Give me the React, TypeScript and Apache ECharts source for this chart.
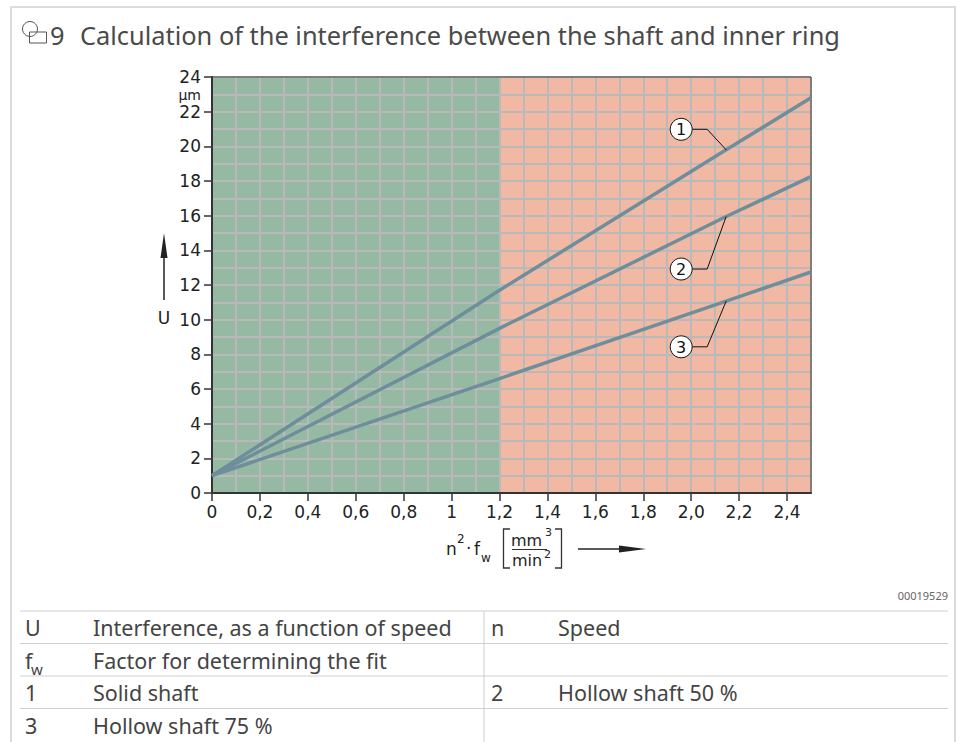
import React, { useEffect, useRef } from "react";
import * as echarts from "echarts";

// ---- data ----
const xTickValues = [0, 0.2, 0.4, 0.6, 0.8, 1.0, 1.2, 1.4, 1.6, 1.8, 2.0, 2.2, 2.4];
const xTickLabels = ["0", "0,2", "0,4", "0,6", "0,8", "1", "1,2", "1,4", "1,6", "1,8", "2,0", "2,2", "2,4"];
const yTickValues = [0, 2, 4, 6, 8, 10, 12, 14, 16, 18, 20, 22, 24];
const yUnitValue = 23;
const yUnitLabel = "µm";

const solidShaft = [[0, 1], [1.2, 11.7], [2.146, 19.8], [2.5, 22.8]];
const hollowShaft50 = [[0, 1], [1.2, 9.5], [2.146, 15.95], [2.5, 18.25]];
const hollowShaft75 = [[0, 1], [1.2, 6.6], [2.146, 11.07], [2.5, 12.75]];
const seriesNames = ["Solid shaft", "Hollow shaft 50 %", "Hollow shaft 75 %"];

const zoneStart = [0, 1.2];
const zoneEnd = [1.2, 2.5];

const calloutLabels = ["1", "2", "3"];
const calloutX = [2.146, 2.146, 2.146];

const titleNumber = "9";
const titleText = "Calculation of the interference between the shaft and inner ring";
const imageId = "00019529";

const legendRows = [
  ["U", "Interference, as a function of speed", "n", "Speed"],
  ["f|w", "Factor for determining the fit", "", ""],
  ["1", "Solid shaft", "2", "Hollow shaft 50 %"],
  ["3", "Hollow shaft 75 %", "", ""],
];

// ---- styles ----
const FONT = "'Noto Sans', 'Open Sans', sans-serif";
const AXFONT = "'DejaVu Sans', 'Noto Sans', sans-serif";
const zoneColors = ["#96b9a4", "#f1b9a4"];
const lineColor = "#6e8e9b";
const gridLineColor = "#b9b9b9";
const axisColor = "#222";
const X_MIN = 0, X_MAX = 2.5, Y_MIN = 0, Y_MAX = 24;

function interp(data: number[][], x: number): number {
  for (let i = 0; i < data.length - 1; i++) {
    const [x0, y0] = data[i];
    const [x1, y1] = data[i + 1];
    if (x >= x0 && x <= x1) return y0 + ((y1 - y0) * (x - x0)) / (x1 - x0);
  }
  return data[data.length - 1][1];
}

export default function App() {
  const ref = useRef<HTMLDivElement>(null);

  useEffect(() => {
    if (!ref.current) return;
    const chart = echarts.init(ref.current, undefined, { renderer: "svg" });
    const allSeries = [solidShaft, hollowShaft50, hollowShaft75];

    const labelStyle = { color: axisColor, fontSize: 17, fontFamily: AXFONT, lineHeight: 17 };

    const option: any = {
      animation: false,
      backgroundColor: "#fff",
      grid: {
        left: 212,
        right: 146,
        top: 77,
        bottom: 249,
        show: true,
        backgroundColor: "transparent",
        borderColor: "#444",
        borderWidth: 1,
        z: 4,
      },
      xAxis: [
        {
          // grid axis: split lines every 0.1
          type: "value",
          min: X_MIN,
          max: X_MAX,
          interval: 0.1,
          position: "bottom",
          z: 3,
          axisLine: { show: true, onZero: false, lineStyle: { color: axisColor, width: 2 } },
          axisTick: { show: false },
          axisLabel: { show: false },
          splitLine: { show: true, lineStyle: { color: gridLineColor, width: 2 } },
        },
        {
          // tick / label axis
          type: "value",
          min: X_MIN,
          max: X_MAX,
          interval: 0.1,
          position: "bottom",
          z: 3,
          axisLine: { show: false, onZero: false },
          axisTick: {
            show: true,
            customValues: xTickValues,
            length: 8,
            lineStyle: { color: "#333", width: 1.5 },
          },
          axisLabel: {
            customValues: xTickValues,
            formatter: (v: number) => {
              const i = xTickValues.findIndex((t) => Math.abs(t - v) < 1e-6);
              return i >= 0 ? xTickLabels[i] : "";
            },
            ...labelStyle,
            margin: 10,
          },
          splitLine: { show: false },
        },
      ],
      yAxis: [
        {
          type: "value",
          min: Y_MIN,
          max: Y_MAX,
          interval: 1,
          position: "left",
          z: 3,
          axisLine: { show: true, onZero: false, lineStyle: { color: axisColor, width: 2 } },
          axisTick: { show: false },
          axisLabel: { show: false },
          splitLine: { show: true, lineStyle: { color: gridLineColor, width: 2 } },
        },
        {
          type: "value",
          min: Y_MIN,
          max: Y_MAX,
          interval: 1,
          position: "left",
          z: 3,
          axisLine: { show: false, onZero: false },
          axisTick: {
            show: true,
            customValues: yTickValues,
            length: 8,
            lineStyle: { color: "#333", width: 1.5 },
          },
          axisLabel: {
            customValues: yTickValues,
            formatter: (v: number) => String(v),
            ...labelStyle,
            margin: 11,
          },
          splitLine: { show: false },
        },
      ],
      series: [
        {
          type: "custom",
          z: 1,
          silent: true,
          clip: true,
          xAxisIndex: 0,
          yAxisIndex: 0,
          data: zoneStart.map((s, i) => [s, zoneEnd[i]]),
          encode: { x: [0, 1] },
          renderItem: (params: any, api: any) => {
            const p0 = api.coord([api.value(0), Y_MAX]);
            const p1 = api.coord([api.value(1), Y_MIN]);
            return {
              type: "rect",
              shape: { x: p0[0], y: p0[1], width: p1[0] - p0[0], height: p1[1] - p0[1] },
              style: { fill: zoneColors[params.dataIndex] },
            };
          },
        },
        ...allSeries.map((d, i) => ({
          type: "line",
          name: seriesNames[i],
          xAxisIndex: 0,
          yAxisIndex: 0,
          data: d,
          z: 5,
          silent: true,
          symbol: "none",
          showSymbol: false,
          lineStyle: { color: lineColor, width: 3.5 },
        })),
      ],
    };
    chart.setOption(option);

    // ---- decorations ----
    const g: any[] = [];
    const t = (text: string, x: number, y: number, size: number, align = "left", font = AXFONT, fill = axisColor) => ({
      type: "text",
      x,
      y,
      style: {
        text,
        font: `${size}px ${font}`,
        fill,
        textAlign: align,
        textVerticalAlign: "middle",
        lineHeight: size,
      },
    });

    // frame
    g.push({
      type: "rect",
      shape: { x: 11, y: 7, width: 944, height: 760 },
      style: { fill: "none", stroke: "#dcdcdc", lineWidth: 2 },
      z: 0,
    });
    // title icon
    g.push({
      type: "rect",
      shape: { x: 29.5, y: 32, width: 17, height: 11 },
      style: { fill: "none", stroke: "#555", lineWidth: 1 },
    });
    g.push({
      type: "circle",
      shape: { cx: 30, cy: 29, r: 7.5 },
      style: { fill: "none", stroke: "#555", lineWidth: 1 },
    });
    g.push(t(titleNumber, 50, 35, 25.4, "left", FONT, "#4a4a4a"));
    g.push(t(titleText, 80, 35, 25.4, "left", FONT, "#4a4a4a"));

    // y unit label (between 24 and 22)
    const [, unitY] = chart.convertToPixel({ gridIndex: 0 }, [0, yUnitValue]) as number[];
    g.push(t(yUnitLabel, 201, unitY + 0.5, 14, "right"));

    // y axis name + arrow
    g.push({
      type: "line",
      shape: { x1: 164, y1: 300, x2: 164, y2: 252 },
      style: { stroke: "#222", lineWidth: 1.5 },
    });
    g.push({
      type: "polygon",
      shape: { points: [[160.5, 258], [164, 233], [167.5, 258]] },
      style: { fill: "#222" },
    });
    g.push(t("U", 164, 318, 17, "center"));

    // x axis name
    g.push(t("n", 446, 549, 17));
    g.push(t("2", 457, 539, 12));
    g.push(t("·", 466, 548, 17));
    g.push(t("f", 474, 549, 17));
    g.push(t("w", 481, 558, 12));
    g.push({
      type: "polyline",
      shape: { points: [[510, 529], [503.5, 529], [503.5, 568], [510, 568]] },
      style: { stroke: "#333", lineWidth: 1.3, fill: "none" },
    });
    g.push({
      type: "polyline",
      shape: { points: [[555, 529], [561.5, 529], [561.5, 568], [555, 568]] },
      style: { stroke: "#333", lineWidth: 1.3, fill: "none" },
    });
    g.push(t("mm", 511, 540, 16));
    g.push(t("3", 545, 532, 11));
    g.push({
      type: "line",
      shape: { x1: 512, y1: 549.5, x2: 547, y2: 549.5 },
      style: { stroke: "#333", lineWidth: 1.2 },
    });
    g.push(t("min", 512, 560, 16));
    g.push(t("2", 544, 554, 11));
    g.push({
      type: "line",
      shape: { x1: 578, y1: 549, x2: 625, y2: 549 },
      style: { stroke: "#222", lineWidth: 1.5 },
    });
    g.push({
      type: "polygon",
      shape: { points: [[619, 545.5], [646, 549], [619, 552.5]] },
      style: { fill: "#222" },
    });

    // callouts
    const calloutDy = [-20.5, 52.5, 45.7];
    calloutLabels.forEach((lab, i) => {
      const xv = calloutX[i];
      const yv = interp(allSeries[i], xv);
      const [ax, ay] = chart.convertToPixel({ gridIndex: 0 }, [xv, yv]) as number[];
      const ey = ay + calloutDy[i];
      const cx = ax - 45;
      g.push({
        type: "polyline",
        z: 20,
        shape: { points: [[cx + 11, ey], [ax - 19, ey], [ax, ay]] },
        style: { stroke: "#111", lineWidth: 1, fill: "none" },
      });
      g.push({
        type: "circle",
        z: 20,
        shape: { cx, cy: ey, r: 11 },
        style: { fill: "#fff", stroke: "#111", lineWidth: 1 },
      });
      g.push({ ...t(lab, cx, ey + 0.5, 16, "center", AXFONT, "#111"), z: 21 });
    });

    // image id
    g.push(t(imageId, 948, 595, 11, "right", FONT, "#666"));

    // legend table
    const rowLines = [611, 643.5, 676, 708.5];
    rowLines.forEach((y) =>
      g.push({
        type: "line",
        shape: { x1: 20, y1: y, x2: 948, y2: y },
        style: { stroke: "#cfcfcf", lineWidth: 1 },
      })
    );
    g.push({
      type: "line",
      shape: { x1: 484, y1: 611, x2: 484, y2: 742 },
      style: { stroke: "#cfcfcf", lineWidth: 1 },
    });
    const colX = [25, 93, 491, 558];
    legendRows.forEach((row, r) => {
      const cy = 627.5 + r * 32.5;
      row.forEach((cell, c) => {
        if (!cell) return;
        if (cell.includes("|")) {
          const [main, sub] = cell.split("|");
          g.push(t(main, colX[c], cy, 21.5, "left", FONT, "#444"));
          g.push(t(sub, colX[c] + 6, cy + 9, 15, "left", FONT, "#444"));
        } else {
          g.push(t(cell, colX[c], cy, 21.5, "left", FONT, "#444"));
        }
      });
    });

    chart.setOption({ graphic: { elements: g } });

    return () => chart.dispose();
  }, []);

  return (
    <div
      ref={ref}
      style={{ position: "fixed", left: 0, top: 0, width: 957, height: 742 }}
    />
  );
}
